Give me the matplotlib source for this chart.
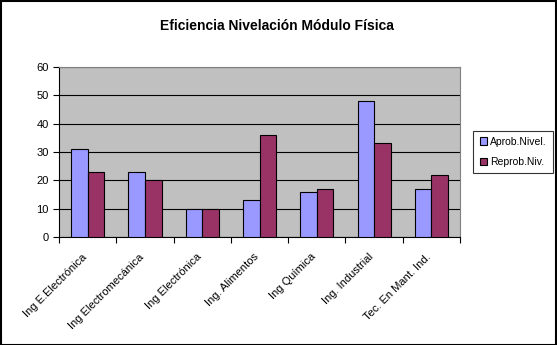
import numpy as np
import matplotlib.pyplot as plt
import matplotlib.transforms as mtransforms

categorias = ["Ing E.Electrónica", "Ing Electromecánica", "Ing Electrónica",
              "Ing. Alimentos", "Ing Química", "Ing. Industrial", "Tec. En Mant. Ind."]
aprob = [31, 23, 10, 13, 16, 48, 17]
reprob = [23, 20, 10, 36, 17, 33, 22]
yticks = [0, 10, 20, 30, 40, 50, 60]

plt.rcParams['font.family'] = ['Liberation Sans', 'DejaVu Sans']

fig = plt.figure(figsize=(5.57, 3.45), dpi=100)
ax = fig.add_axes([0.106, 0.313, 0.720, 0.493])

x = np.arange(len(categorias))
w = 0.29
ax.bar(x - w / 2, aprob, w, color="#9999ff", edgecolor="black", linewidth=0.8,
       label="Aprob.Nivel.", zorder=3)
ax.bar(x + w / 2, reprob, w, color="#993366", edgecolor="black", linewidth=0.8,
       label="Reprob.Niv.", zorder=3)

ax.set_facecolor("#c0c0c0")
ax.set_xlim(-0.5, len(categorias) - 0.5)
ax.set_ylim(0, 60)
ax.set_yticks(yticks)
ax.yaxis.grid(True, color="black", linewidth=0.8, zorder=1)
ax.tick_params(axis="y", labelsize=8, length=4, width=0.8)

ax.set_xticks(x)
ax.set_xticklabels(categorias, rotation=45, ha="right", rotation_mode="anchor", fontsize=8)
ax.tick_params(axis="x", which="major", length=0, pad=12)
ax.set_xticks(np.arange(-0.5, len(categorias)), minor=True)
ax.tick_params(axis="x", which="minor", length=4, width=0.8)
# desplazar etiquetas un poco a la izquierda
off = mtransforms.ScaledTranslation(-6 / 100, 2 / 100, fig.dpi_scale_trans)
for lbl in ax.get_xticklabels():
    lbl.set_transform(lbl.get_transform() + off)

for s in ["top", "right"]:
    ax.spines[s].set_color("#808080")
for s in ["left", "bottom"]:
    ax.spines[s].set_color("black")

fig.text(0.497, 0.925, "Eficiencia Nivelación Módulo Física", ha="center", va="center",
         fontsize=10, fontweight="bold")

leg = ax.legend(loc="center left", bbox_to_anchor=(1.02, 0.5), fontsize=7.5,
                frameon=True, fancybox=False, handlelength=0.7, handleheight=0.7,
                handletextpad=0.3, borderpad=0.6, labelspacing=1.0)
leg.get_frame().set_edgecolor("black")
leg.get_frame().set_linewidth(0.8)

fig.patches.append(plt.Rectangle((0.001, 0.001), 0.997, 0.996, transform=fig.transFigure,
                                 fill=False, edgecolor="black", linewidth=1.5))

fig.savefig("out.png", dpi=100)
